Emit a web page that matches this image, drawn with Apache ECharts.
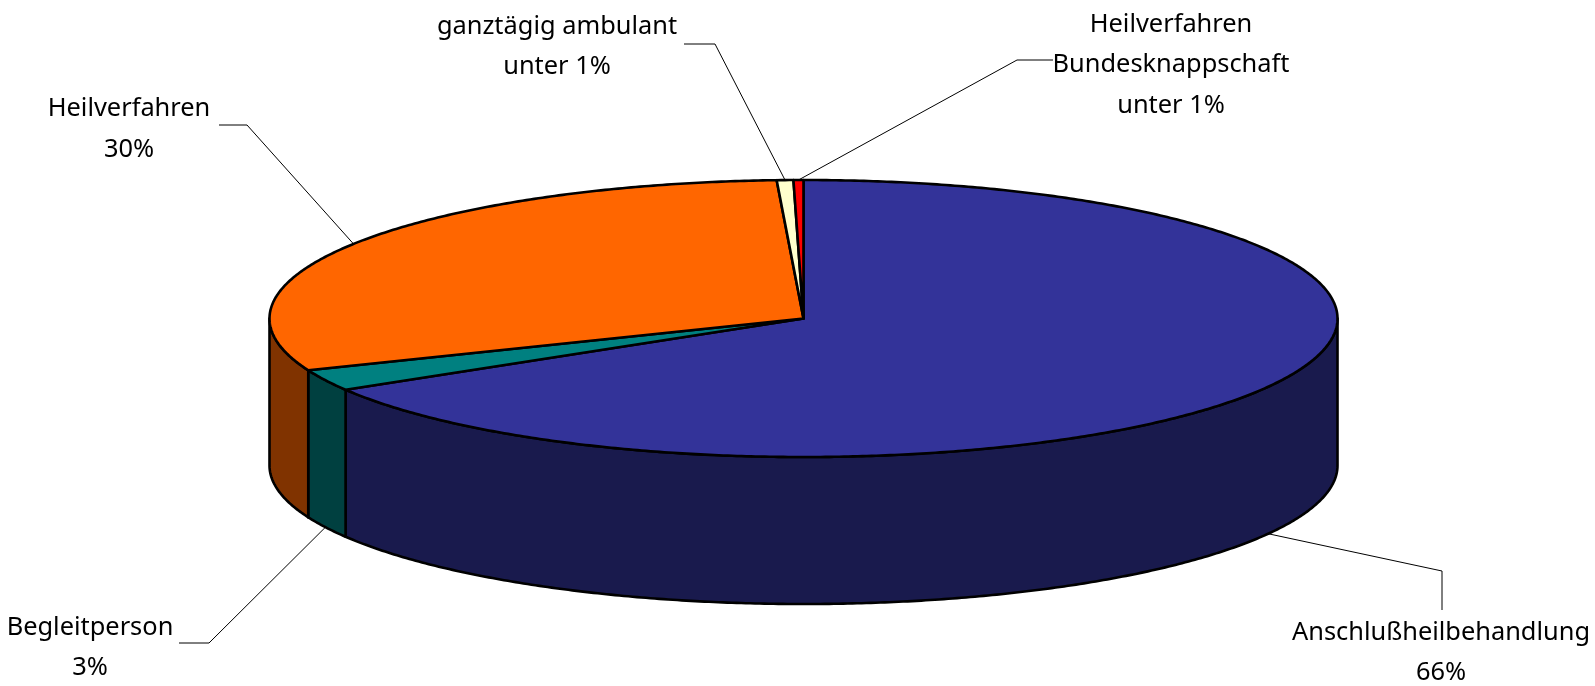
<!DOCTYPE html>
<html><head><meta charset="utf-8">
<style>html,body{margin:0;padding:0;background:#fff}#c{width:1595px;height:686px}</style>
<script src="https://cdn.jsdelivr.net/npm/echarts@6/dist/echarts.min.js"></script>
</head><body><div id="c"></div>
<script>
const categories = ['Anschlußheilbehandlung','Begleitperson','Heilverfahren','ganztägig ambulant','Heilverfahren\nBundesknappschaft'];
const values = [66.4, 2.5, 30.3, 0.5, 0.3];
const valueLabels = ['66%','3%','30%','unter 1%','unter 1%'];
const topColors = ['#333399','#008080','#FF6600','#FFFFCC','#FF0000'];
const wallColors = ['#191A4D','#004040','#803300','#808066','#800000'];

// pie geometry (pixels)
const CX = 803.5, CY = 318.5, RX = 534, RY = 138.5, DEPTH = 147;
// label layout: text centre and leader elbow + leader text end (pixels)
const labelPos = [
  {x:1441, y:653, elbow:[1442,571], end:[1442,610]},
  {x:90,   y:648, elbow:[209,643],  end:[179,643]},
  {x:129,  y:129.5, elbow:[247,125],  end:[219,125]},
  {x:557,  y:47,  elbow:[715,44],   end:[684,44]},
  {x:1171, y:65,  elbow:[1017,60],  end:[1053,60]}
];

const total = values.reduce((a,b)=>a+b,0);
let acc = 0;
const ranges = values.map(v=>{const r=[acc/total*360,(acc+v)/total*360];acc+=v;return r;});
const pt = (deg,dy)=>{const a=deg*Math.PI/180;return [CX+RX*Math.sin(a),CY-RY*Math.cos(a)+(dy||0)];};
const arc = (s,e,dy)=>{const o=[];const n=Math.max(2,Math.ceil(Math.abs(e-s)*2));for(let i=0;i<=n;i++)o.push(pt(s+(e-s)*i/n,dy));return o;};

const sliceData = values.map((v,i)=>[ranges[i][0],ranges[i][1],i]);
const stroke = {stroke:'#000',lineWidth:2.6,lineJoin:'round'};

const chart = echarts.init(document.getElementById('c'),null,{renderer:'canvas'});
chart.setOption({
  animation:false,
  backgroundColor:'#fff',
  series:[
    {type:'custom',coordinateSystem:'none',silent:true,z:1,data:sliceData,
     renderItem:(p,api)=>{
       const s=Math.max(api.value(0),90),e=Math.min(api.value(1),270);
       if(e<=s) return {type:'group',children:[]};
       const i=api.value(2);
       return {type:'polygon',shape:{points:arc(s,e,0).concat(arc(e,s,DEPTH))},
               style:Object.assign({fill:wallColors[i]},stroke)};
     }},
    {type:'custom',coordinateSystem:'none',silent:true,z:2,data:sliceData,
     renderItem:(p,api)=>{
       const i=api.value(2);
       return {type:'polygon',shape:{points:[[CX,CY]].concat(arc(api.value(0),api.value(1),0))},
               style:Object.assign({fill:topColors[i]},stroke)};
     }},
    {type:'custom',coordinateSystem:'none',silent:true,z:3,data:sliceData,
     renderItem:(p,api)=>{
       const i=api.value(2),mid=(api.value(0)+api.value(1))/2;
       const front=mid>90&&mid<270;
       const L=labelPos[i];
       const t=categories[i]+'\n'+valueLabels[i];
       return {type:'group',children:[
         {type:'polyline',shape:{points:[L.end,L.elbow,pt(mid,front?DEPTH:0)]},
          style:{stroke:'#000',lineWidth:1,fill:null}},
         {type:'text',style:{x:L.x,y:L.y,text:t,fill:'#000',align:'center',verticalAlign:'middle',
           font:'25.4px "Noto Sans"',lineHeight:40.5}}
       ]};
     }}
  ]
});
</script></body></html>
